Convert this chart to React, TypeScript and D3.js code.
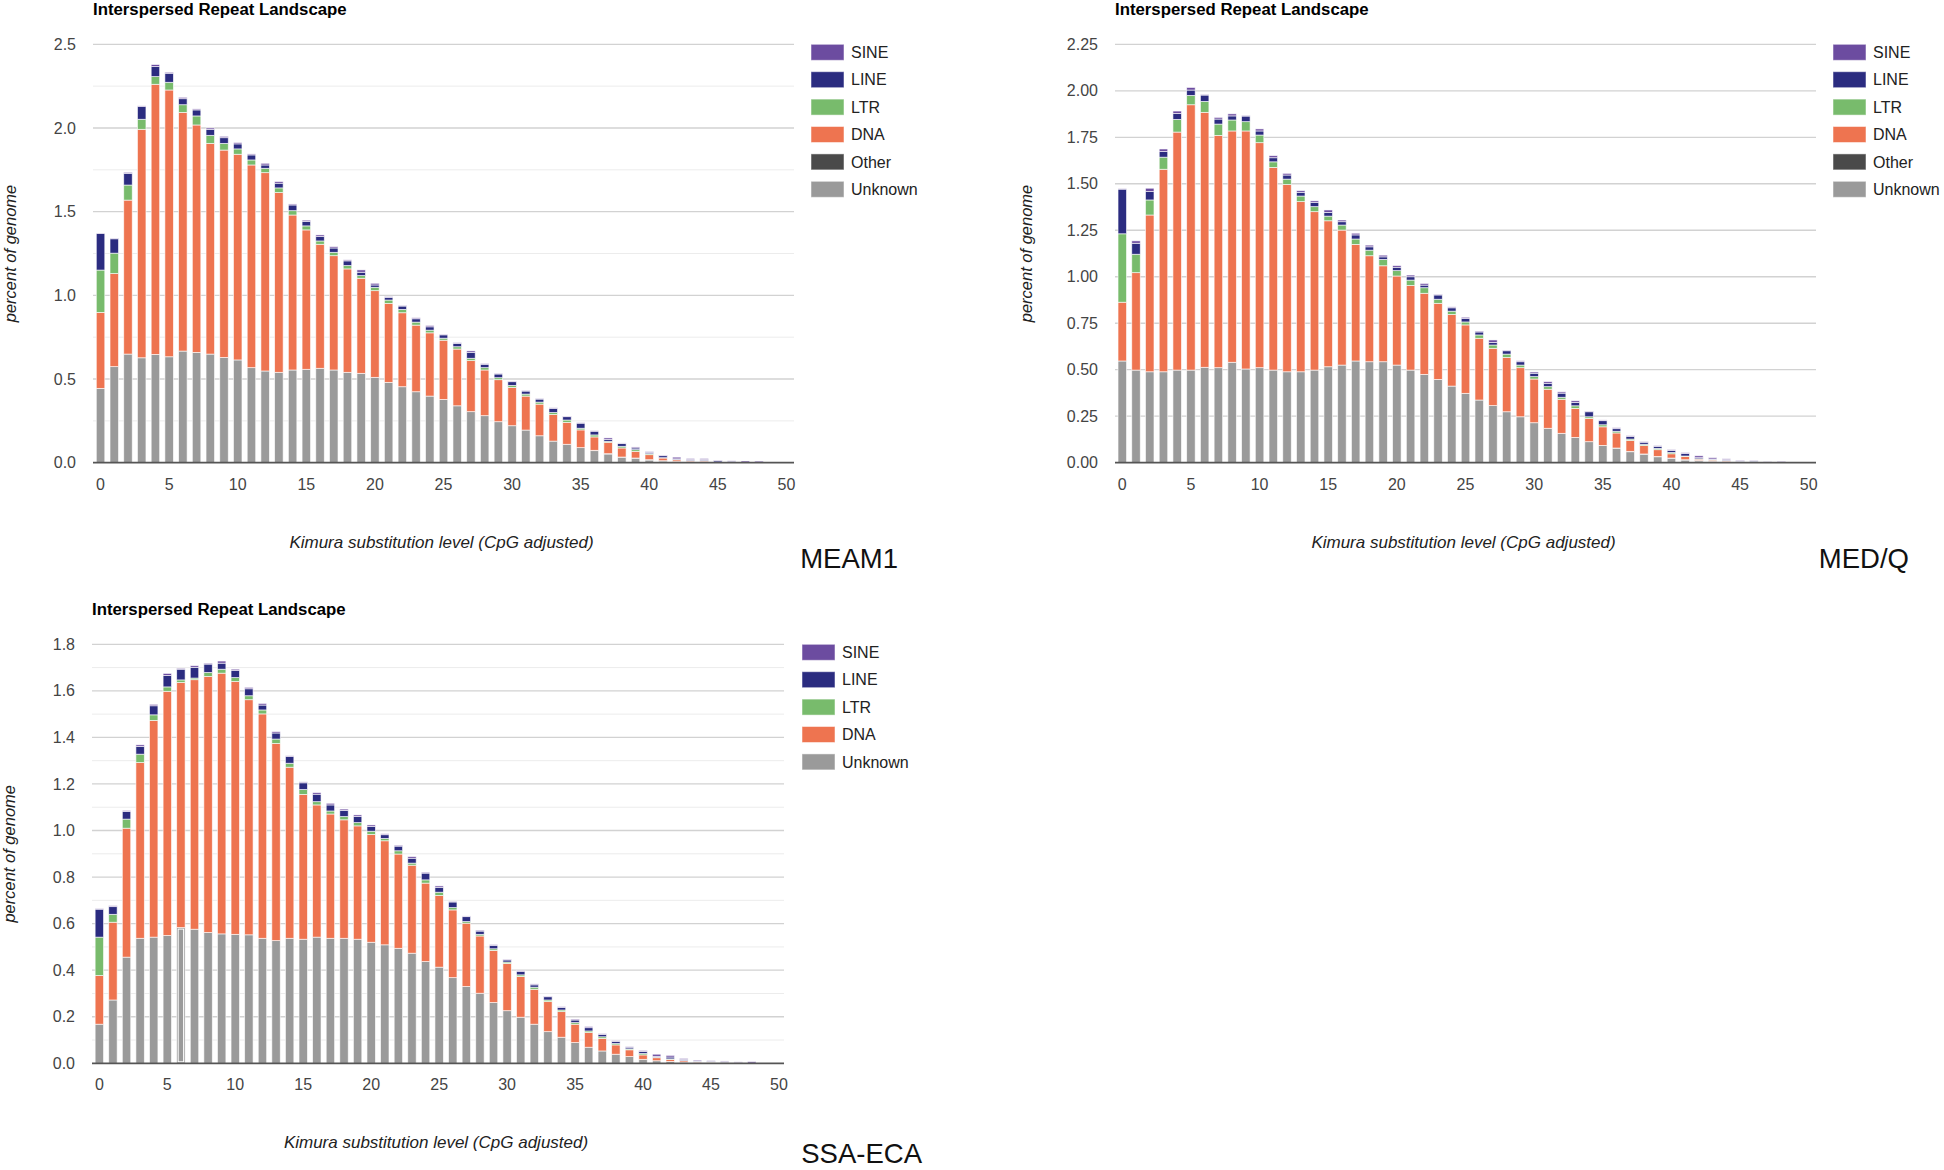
import * as d3 from "d3";

const FONT = "Arial, 'Liberation Sans', Helvetica, sans-serif";

// Repeat classes, bottom of the stack first.
const STACK_ORDER = ["Unknown", "Other", "DNA", "LTR", "LINE", "SINE"];
const CLASS_COLORS: Record<string, string> = {
  SINE: "#6c4ca0",
  LINE: "#2b2c80",
  LTR: "#78bb6c",
  DNA: "#ee7450",
  Other: "#4a4a4a",
  Unknown: "#9a9a9a",
};

const KIMURA_TICKS = [0, 5, 10, 15, 20, 25, 30, 35, 40, 45, 50];

// ---- MEAM1 (percent of genome per Kimura level 0..48) ----
const meam1Unknown = [0.444, 0.574, 0.649, 0.627, 0.647, 0.633, 0.667, 0.659, 0.649, 0.629, 0.614, 0.568, 0.548, 0.54, 0.554, 0.558, 0.564, 0.554, 0.54, 0.534, 0.51, 0.48, 0.454, 0.424, 0.398, 0.378, 0.34, 0.305, 0.281, 0.245, 0.221, 0.195, 0.161, 0.129, 0.11, 0.09, 0.072, 0.052, 0.032, 0.026, 0.016, 0.01, 0.005, 0.004, 0.004, 0.002, 0.001, 0, 0];
const meam1Other = [0, 0, 0, 0, 0, 0, 0, 0, 0, 0, 0, 0, 0, 0, 0, 0, 0, 0, 0, 0, 0, 0, 0, 0, 0, 0, 0, 0, 0, 0, 0, 0, 0, 0, 0, 0, 0.002, 0.002, 0.002, 0.002, 0.002, 0.002, 0.002, 0.002, 0.002, 0, 0, 0, 0];
const meam1Dna = [0.454, 0.556, 0.92, 1.365, 1.614, 1.594, 1.426, 1.359, 1.259, 1.239, 1.229, 1.211, 1.185, 1.074, 0.926, 0.833, 0.741, 0.683, 0.618, 0.568, 0.518, 0.472, 0.442, 0.398, 0.378, 0.354, 0.339, 0.305, 0.273, 0.251, 0.229, 0.203, 0.189, 0.159, 0.131, 0.106, 0.08, 0.068, 0.054, 0.04, 0.03, 0.016, 0.01, 0.006, 0.006, 0.002, 0.002, 0, 0];
const meam1Ltr = [0.253, 0.122, 0.09, 0.06, 0.046, 0.046, 0.046, 0.054, 0.048, 0.04, 0.032, 0.03, 0.026, 0.028, 0.026, 0.024, 0.02, 0.02, 0.02, 0.016, 0.02, 0.02, 0.02, 0.018, 0.016, 0.012, 0.014, 0.014, 0.014, 0.012, 0.012, 0.012, 0.012, 0.012, 0.014, 0.01, 0.012, 0.006, 0.01, 0.01, 0.006, 0.002, 0.002, 0.001, 0.001, 0, 0, 0, 0];
const meam1Line = [0.219, 0.086, 0.07, 0.076, 0.06, 0.054, 0.036, 0.036, 0.036, 0.034, 0.03, 0.03, 0.02, 0.028, 0.034, 0.026, 0.026, 0.026, 0.028, 0.02, 0.014, 0.016, 0.02, 0.02, 0.02, 0.02, 0.02, 0.034, 0.02, 0.022, 0.022, 0.018, 0.018, 0.024, 0.02, 0.03, 0.022, 0.01, 0.016, 0.01, 0.008, 0.012, 0.004, 0.006, 0.006, 0.008, 0.006, 0.002, 0.001];
const meam1Sine = [0.002, 0.004, 0.006, 0.004, 0.012, 0.006, 0.008, 0.006, 0.008, 0.008, 0.008, 0.006, 0.01, 0.01, 0.006, 0.008, 0.01, 0.008, 0.006, 0.014, 0.01, 0.004, 0.004, 0.006, 0.008, 0.004, 0.004, 0.01, 0.004, 0.004, 0.004, 0.004, 0.004, 0.004, 0.004, 0.004, 0.004, 0.01, 0.004, 0.006, 0.004, 0.004, 0.01, 0.006, 0.006, 0.004, 0.002, 0.008, 0.008];

// ---- MED/Q ----
const medqUnknown = [0.547, 0.498, 0.489, 0.489, 0.498, 0.498, 0.513, 0.511, 0.54, 0.504, 0.511, 0.498, 0.489, 0.489, 0.498, 0.516, 0.525, 0.547, 0.543, 0.543, 0.525, 0.498, 0.475, 0.448, 0.412, 0.373, 0.337, 0.307, 0.274, 0.247, 0.215, 0.185, 0.158, 0.136, 0.113, 0.093, 0.077, 0.059, 0.045, 0.032, 0.023, 0.014, 0.01, 0.006, 0.004, 0.002, 0.002, 0, 0];
const medqOther = [0, 0, 0, 0, 0, 0, 0, 0, 0, 0, 0, 0, 0, 0, 0, 0, 0, 0, 0, 0, 0, 0, 0, 0, 0, 0, 0, 0, 0, 0, 0, 0, 0, 0, 0, 0, 0.002, 0.002, 0.002, 0.002, 0.002, 0.002, 0.002, 0.002, 0.002, 0, 0, 0, 0];
const medqDna = [0.316, 0.524, 0.843, 1.089, 1.28, 1.427, 1.371, 1.249, 1.244, 1.28, 1.21, 1.09, 1.007, 0.915, 0.852, 0.785, 0.726, 0.627, 0.57, 0.516, 0.479, 0.455, 0.436, 0.409, 0.385, 0.368, 0.332, 0.308, 0.292, 0.264, 0.235, 0.21, 0.183, 0.156, 0.125, 0.1, 0.081, 0.059, 0.045, 0.036, 0.023, 0.018, 0.007, 0.006, 0.005, 0.002, 0.002, 0, 0];
const medqLtr = [0.368, 0.099, 0.081, 0.065, 0.068, 0.05, 0.059, 0.061, 0.059, 0.05, 0.041, 0.03, 0.029, 0.03, 0.027, 0.025, 0.027, 0.029, 0.03, 0.034, 0.029, 0.029, 0.03, 0.022, 0.018, 0.016, 0.018, 0.018, 0.018, 0.014, 0.013, 0.014, 0.011, 0.014, 0.009, 0.011, 0.009, 0.007, 0.007, 0.007, 0.007, 0.002, 0.002, 0.002, 0.001, 0.001, 0.001, 0, 0];
const medqLine = [0.24, 0.059, 0.045, 0.03, 0.032, 0.029, 0.034, 0.027, 0.022, 0.03, 0.022, 0.022, 0.022, 0.02, 0.022, 0.02, 0.018, 0.022, 0.018, 0.014, 0.018, 0.018, 0.014, 0.023, 0.018, 0.018, 0.016, 0.014, 0.018, 0.018, 0.018, 0.018, 0.022, 0.018, 0.027, 0.022, 0.014, 0.014, 0.011, 0.011, 0.011, 0.014, 0.006, 0.004, 0.004, 0.004, 0.005, 0.004, 0.002];
const medqSine = [0.002, 0.013, 0.018, 0.014, 0.013, 0.014, 0.004, 0.009, 0.011, 0.004, 0.011, 0.011, 0.009, 0.009, 0.009, 0.013, 0.009, 0.009, 0.009, 0.009, 0.009, 0.009, 0.009, 0.004, 0.005, 0.007, 0.005, 0.013, 0.004, 0.005, 0.007, 0.009, 0.007, 0.009, 0.004, 0.004, 0.005, 0.004, 0.004, 0.004, 0.004, 0.004, 0.01, 0.007, 0.005, 0.004, 0.003, 0.001, 0.005];

// ---- SSA-ECA (no "Other" class) ----
const ssaUnknown = [0.168, 0.272, 0.456, 0.537, 0.542, 0.549, 0.583, 0.576, 0.562, 0.556, 0.554, 0.552, 0.537, 0.527, 0.537, 0.533, 0.542, 0.537, 0.537, 0.533, 0.52, 0.509, 0.494, 0.473, 0.437, 0.413, 0.368, 0.33, 0.301, 0.261, 0.226, 0.198, 0.168, 0.136, 0.112, 0.089, 0.069, 0.053, 0.039, 0.029, 0.017, 0.011, 0.008, 0.005, 0.003, 0.002, 0.002, 0.001, 0];
const ssaDna = [0.209, 0.334, 0.554, 0.755, 0.931, 1.049, 1.053, 1.072, 1.1, 1.12, 1.086, 1.01, 0.964, 0.847, 0.735, 0.622, 0.568, 0.534, 0.509, 0.487, 0.463, 0.447, 0.405, 0.378, 0.337, 0.308, 0.291, 0.272, 0.246, 0.224, 0.203, 0.175, 0.15, 0.129, 0.11, 0.079, 0.063, 0.054, 0.04, 0.029, 0.019, 0.013, 0.009, 0.006, 0.004, 0.003, 0.002, 0.001, 0];
const ssaLtr = [0.165, 0.034, 0.039, 0.036, 0.024, 0.019, 0.011, 0.007, 0.017, 0.017, 0.017, 0.017, 0.017, 0.019, 0.017, 0.021, 0.014, 0.013, 0.014, 0.014, 0.014, 0.01, 0.014, 0.009, 0.014, 0.014, 0.01, 0.007, 0.007, 0.007, 0.006, 0.007, 0.009, 0.007, 0.007, 0.007, 0.007, 0.007, 0.006, 0.004, 0.006, 0.002, 0.002, 0.001, 0.001, 0.001, 0, 0, 0];
const ssaLine = [0.12, 0.033, 0.033, 0.033, 0.039, 0.049, 0.046, 0.046, 0.036, 0.026, 0.03, 0.03, 0.021, 0.026, 0.029, 0.029, 0.032, 0.026, 0.026, 0.026, 0.02, 0.016, 0.02, 0.021, 0.029, 0.021, 0.024, 0.021, 0.014, 0.014, 0.009, 0.014, 0.01, 0.014, 0.011, 0.011, 0.014, 0.01, 0.009, 0.007, 0.009, 0.004, 0.008, 0.005, 0.002, 0.003, 0.004, 0.002, 0.001];
const ssaSine = [0.002, 0.004, 0.004, 0.007, 0.006, 0.009, 0.004, 0.007, 0.004, 0.009, 0.006, 0.006, 0.007, 0.006, 0.003, 0.004, 0.007, 0.007, 0.006, 0.007, 0.007, 0.004, 0.004, 0.007, 0.004, 0.006, 0.003, 0.003, 0.004, 0.004, 0.003, 0.004, 0.004, 0.003, 0.003, 0.004, 0.005, 0.003, 0.003, 0.003, 0.004, 0.009, 0.007, 0.004, 0.004, 0.002, 0.002, 0.002, 0.006];

type Panel = {
  name: string;
  series: Record<string, number[]>;
  legend: string[];
  yMax: number;
  labelStep: number;
  minorStep: number | null;
  yFormat: string;
  // layout
  x0: number;
  x1: number;
  y0: number;
  y1: number;
  xDomain: [number, number];
  yTitleX: number;
  legendX: number;
  nameRight: number;
  nameBaseline: number;
  highlight?: { key: string; index: number };
};

const PANELS: Panel[] = [
  {
    name: "MEAM1",
    series: { Unknown: meam1Unknown, Other: meam1Other, DNA: meam1Dna, LTR: meam1Ltr, LINE: meam1Line, SINE: meam1Sine },
    legend: ["SINE", "LINE", "LTR", "DNA", "Other", "Unknown"],
    yMax: 2.5,
    labelStep: 0.5,
    minorStep: 0.25,
    yFormat: ".1f",
    x0: 93, x1: 794, y0: 44.3, y1: 462.7,
    xDomain: [-0.55, 50.55],
    yTitleX: 11,
    legendX: 811,
    nameRight: 898,
    nameBaseline: 568,
  },
  {
    name: "MED/Q",
    series: { Unknown: medqUnknown, Other: medqOther, DNA: medqDna, LTR: medqLtr, LINE: medqLine, SINE: medqSine },
    legend: ["SINE", "LINE", "LTR", "DNA", "Other", "Unknown"],
    yMax: 2.25,
    labelStep: 0.25,
    minorStep: null,
    yFormat: ".2f",
    x0: 1115, x1: 1816, y0: 44.3, y1: 462.7,
    xDomain: [-0.53, 50.53],
    yTitleX: 1027,
    legendX: 1833,
    nameRight: 1909,
    nameBaseline: 568,
  },
  {
    name: "SSA-ECA",
    series: { Unknown: ssaUnknown, DNA: ssaDna, LTR: ssaLtr, LINE: ssaLine, SINE: ssaSine },
    legend: ["SINE", "LINE", "LTR", "DNA", "Unknown"],
    yMax: 1.8,
    labelStep: 0.2,
    minorStep: 0.1,
    yFormat: ".1f",
    x0: 92, x1: 784, y0: 644.3, y1: 1063.3,
    xDomain: [-0.54, 50.37],
    yTitleX: 10,
    legendX: 802,
    nameRight: 922,
    nameBaseline: 1163,
    highlight: { key: "Unknown", index: 6 },
  },
];

function LandscapePanel({ p }: { p: Panel }) {
  const keys = STACK_ORDER.filter((k) => p.series[k]);
  const n = p.series[keys[0]].length;
  const rows = d3.range(n).map((i) => {
    const row: Record<string, number> = { level: i };
    keys.forEach((k) => (row[k] = p.series[k][i]));
    return row;
  });
  const stacked = d3.stack<Record<string, number>>().keys(keys)(rows);

  const x = d3.scaleLinear().domain(p.xDomain).range([p.x0, p.x1]);
  const y = d3.scaleLinear().domain([0, p.yMax]).range([p.y1, p.y0]);
  const step = x(1) - x(0);
  const barW = step * 0.62;

  const eps = 1e-6;
  const labelTicks = d3.range(0, p.yMax + eps, p.labelStep);
  const minorTicks = p.minorStep
    ? d3.range(0, p.yMax + eps, p.minorStep).filter(
        (v) => Math.abs(v / p.labelStep - Math.round(v / p.labelStep)) > 1e-4,
      )
    : [];
  const fmt = d3.format(p.yFormat);
  const midY = (p.y0 + p.y1) / 2;

  return (
    <g fontFamily={FONT}>
      <text x={p.x0} y={p.y0 - 29} fontSize={16.8} fontWeight="bold" fill="#000">
        Interspersed Repeat Landscape
      </text>

      {minorTicks.map((v) => (
        <line key={`m${v}`} x1={p.x0} x2={p.x1} y1={y(v)} y2={y(v)} stroke="#ececec" strokeWidth={1} />
      ))}
      {labelTicks.map((v) => (
        <g key={`t${v}`}>
          {v > eps && (
            <line x1={p.x0} x2={p.x1} y1={y(v)} y2={y(v)} stroke="#d2d2d2" strokeWidth={1.3} />
          )}
          <text
            x={p.x0 - 17}
            y={y(v)}
            dy="0.35em"
            textAnchor="end"
            fontSize={16}
            fill="#444"
          >
            {fmt(v)}
          </text>
        </g>
      ))}

      {stacked.map((layer) => (
        <g key={layer.key} fill={CLASS_COLORS[layer.key]}>
          {layer.map((d, i) => {
            const h = y(d[0]) - y(d[1]);
            if (h <= 0) return null;
            return (
              <rect
                key={i}
                x={x(i) - barW / 2}
                y={y(d[1])}
                width={barW}
                height={h}
                stroke="#fff"
                strokeOpacity={0.75}
                strokeWidth={0.8}
              />
            );
          })}
        </g>
      ))}

      {p.highlight && (() => {
        const layer = stacked.find((l) => l.key === p.highlight!.key)!;
        const d = layer[p.highlight.index];
        return (
          <rect
            x={x(p.highlight.index) - barW / 2 + 1.5}
            y={y(d[1]) + 1.5}
            width={barW - 3}
            height={y(d[0]) - y(d[1]) - 3}
            fill="none"
            stroke="#fff"
            strokeWidth={1}
          />
        );
      })()}

      <line x1={p.x0} x2={p.x1} y1={p.y1} y2={p.y1} stroke="#555" strokeWidth={1.8} />

      {KIMURA_TICKS.map((t) => (
        <text key={t} x={x(t)} y={p.y1 + 27} textAnchor="middle" fontSize={16} fill="#444">
          {t}
        </text>
      ))}

      <text
        x={(p.x0 + p.x1) / 2 - 2}
        y={p.y1 + 85}
        textAnchor="middle"
        fontSize={17}
        fontStyle="italic"
        fill="#222"
      >
        Kimura substitution level (CpG adjusted)
      </text>

      <text
        transform={`translate(${p.yTitleX + 5},${midY}) rotate(-90)`}
        textAnchor="middle"
        fontSize={16.5}
        fontStyle="italic"
        fill="#222"
      >
        percent of genome
      </text>

      {p.legend.map((k, i) => {
        const cy = p.y0 + 8 + i * 27.4;
        return (
          <g key={k}>
            <rect x={p.legendX} y={cy - 8} width={33} height={16} fill={CLASS_COLORS[k]} stroke="#fff" strokeOpacity={0.5} />
            <text x={p.legendX + 40} y={cy} dy="0.36em" fontSize={16} fill="#222">
              {k}
            </text>
          </g>
        );
      })}

      <text x={p.nameRight} y={p.nameBaseline} textAnchor="end" fontSize={27.5} fill="#111">
        {p.name}
      </text>
    </g>
  );
}

export default function App() {
  return (
    <svg
      width={1944}
      height={1170}
      viewBox="0 0 1944 1170"
      style={{ position: "absolute", left: 0, top: 0, background: "#fff" }}
    >
      <rect width={1944} height={1170} fill="#fff" />
      {PANELS.map((p) => (
        <LandscapePanel key={p.name} p={p} />
      ))}
    </svg>
  );
}
